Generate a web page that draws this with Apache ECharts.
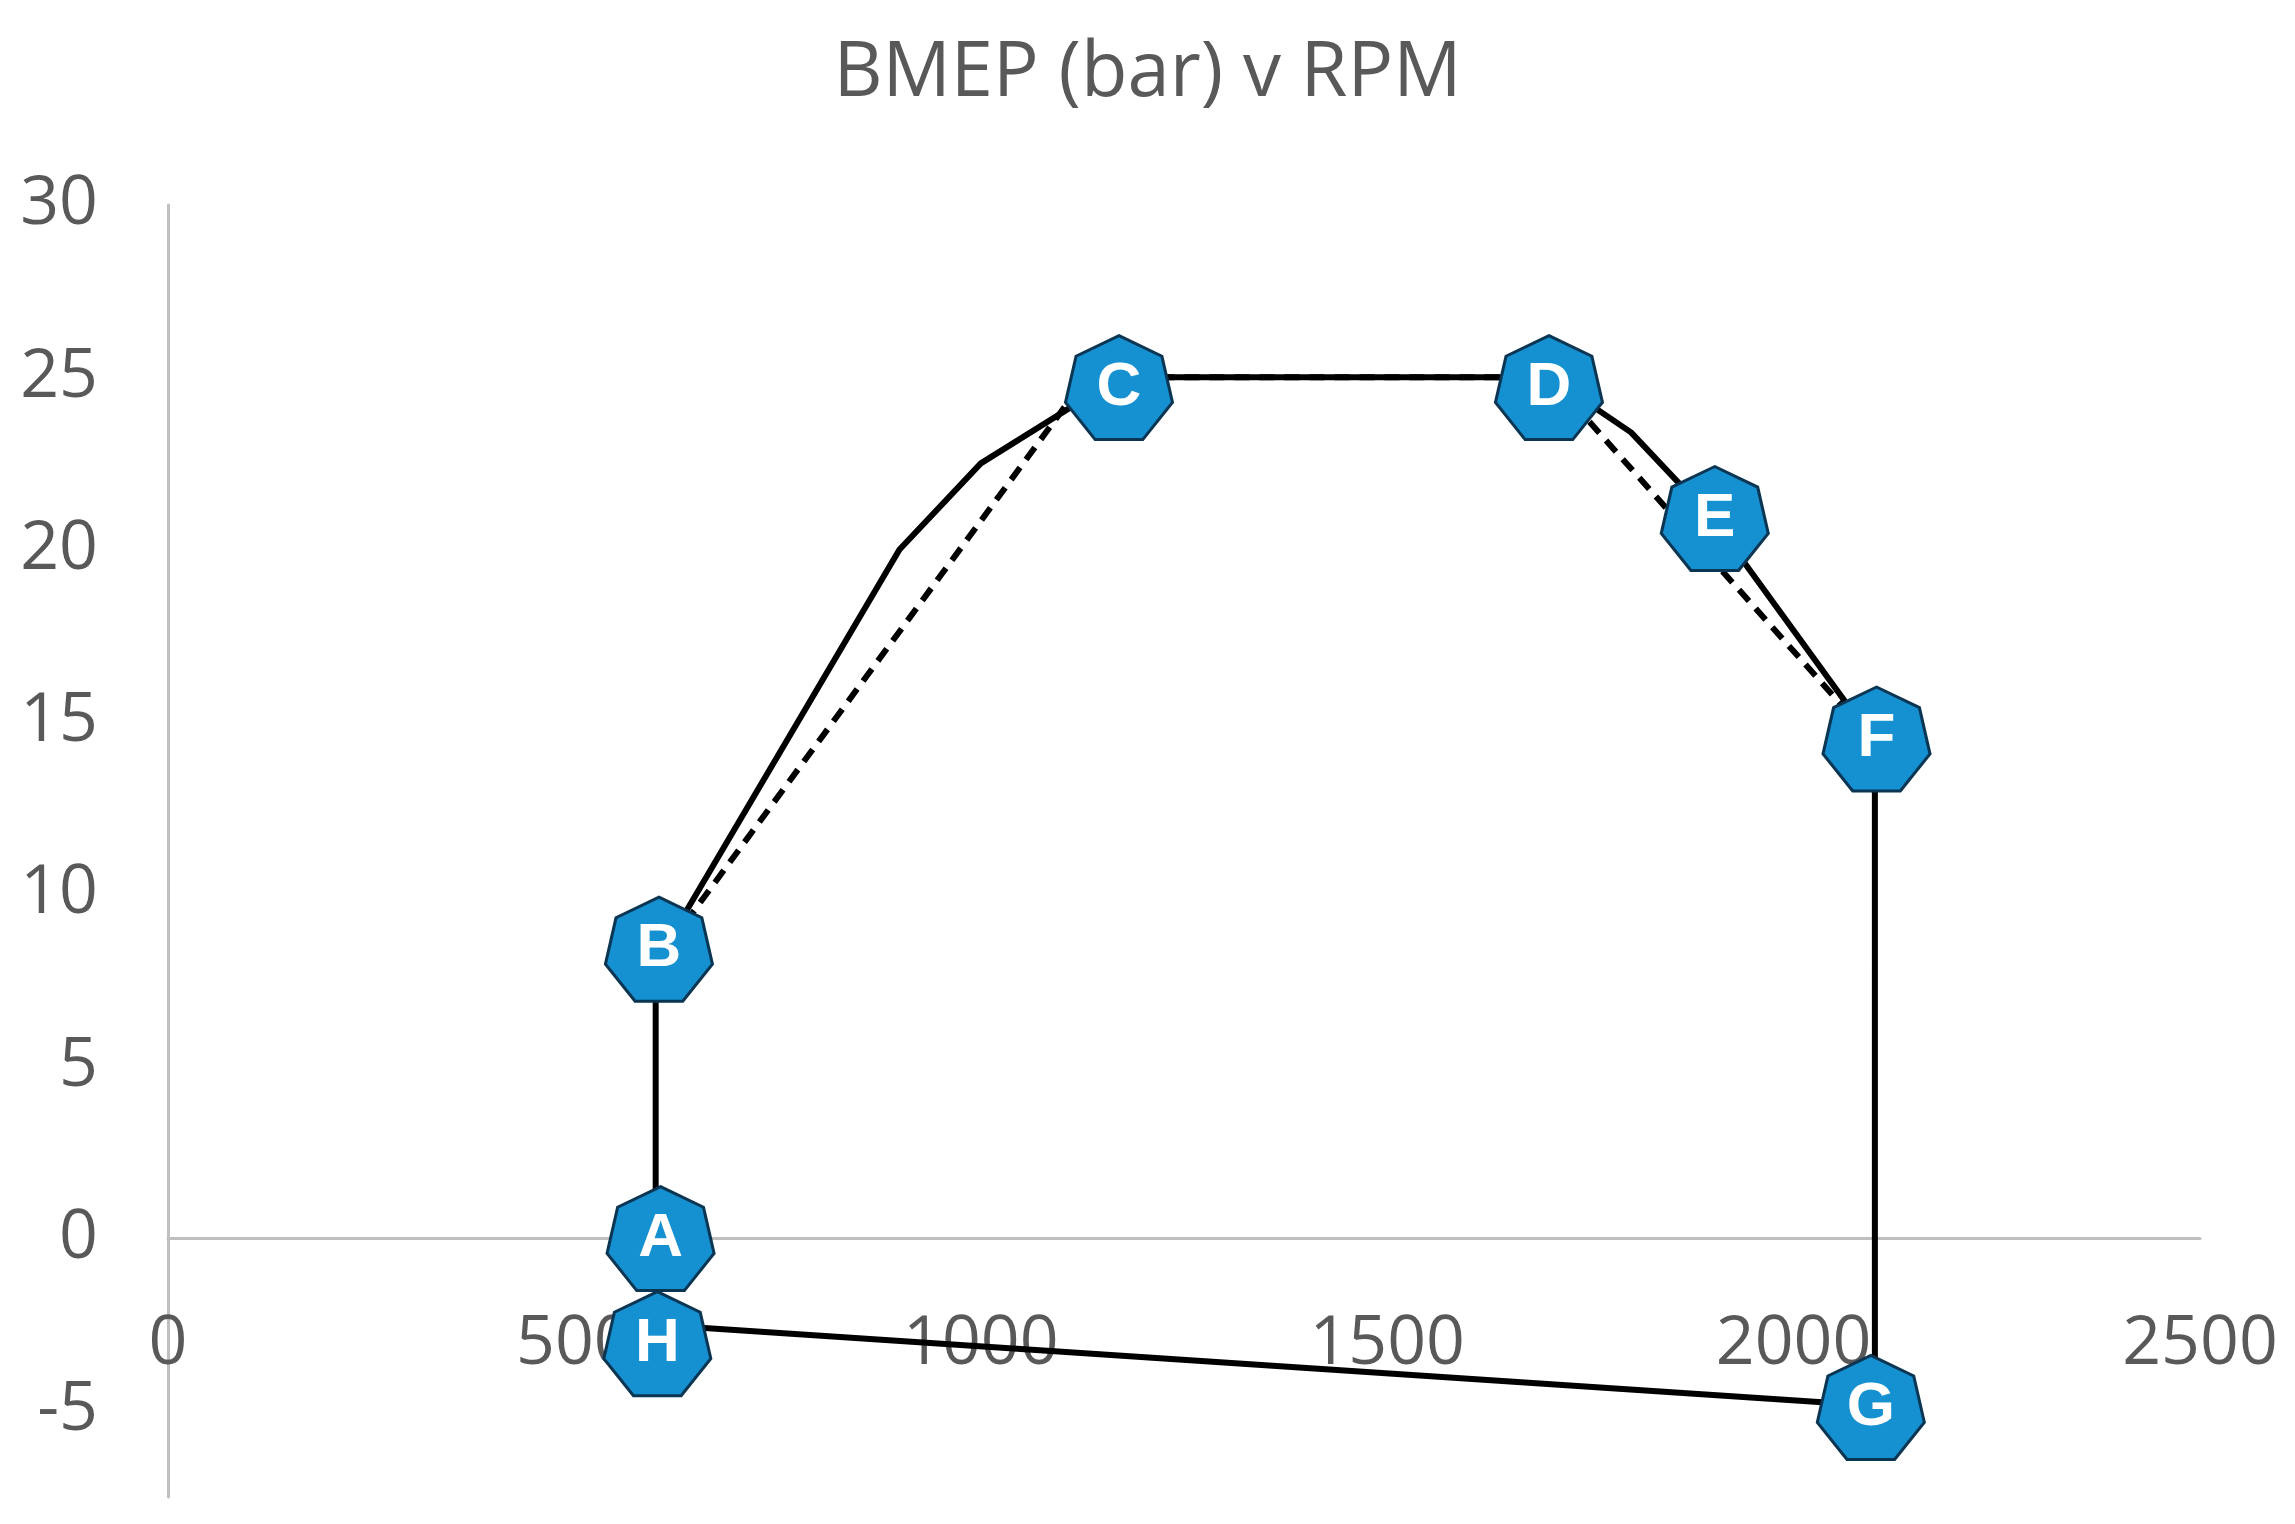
<!DOCTYPE html>
<html>
<head>
<meta charset="utf-8">
<title>BMEP (bar) v RPM</title>
<script src="https://cdn.jsdelivr.net/npm/echarts@6.0.0/dist/echarts.min.js"></script>
<style>
    html, body { margin: 0; padding: 0; background: #fff; }
    #main { width: 2295px; height: 1524px; }
</style>
</head>
<body>
<div id="main"></div>
<script>
// 实线 (engine map outline)
var solidRpm  = [600, 600, 900, 1000, 1170, 1700, 1800, 1900, 2100, 2100, 600, 600];
var solidBmep = [0, 8, 20, 22.5, 25, 25, 23.4, 20.9, 14.4, -4.85, -2.5, 0];

// 虚线 (straight B-C-D-F)
var dashRpm  = [600, 1130, 1700, 2100];
var dashBmep = [8, 25, 25, 14.4];

// 标记点 A..H
var markerNames = ['A', 'B', 'C', 'D', 'E', 'F', 'G', 'H'];
var markerRpm   = [606, 604, 1170, 1699, 1903, 2102, 2095, 602];
var markerBmep  = [0, 8.4, 24.7, 24.7, 20.9, 14.5, -4.9, -3.05];

// axis ticks
var xTicks = [0, 500, 1000, 1500, 2000, 2500];
var yTicks = [-5, 0, 5, 10, 15, 20, 25, 30];
var yMin = -7.5;

function pairs(xs, ys) {
    var out = [];
    for (var i = 0; i < xs.length; i++) {
        out.push([xs[i], ys[i]]);
    }
    return out;
}

var markerData = [];
for (var i = 0; i < markerNames.length; i++) {
    markerData.push({ name: markerNames[i], value: [markerRpm[i], markerBmep[i]] });
}

// 七边形
var heptagon = 'path://M0,-100 L78.18,-62.35 L97.49,22.25 L43.39,90.1 L-43.39,90.1 L-97.49,22.25 L-78.18,-62.35 Z';

var axisFont = { color: '#595959', fontSize: 68, fontFamily: 'Open Sans' };

// 网格
var gridTop = 205, gridBottom = 27, chartH = 1524;
var plotH = chartH - gridTop - gridBottom;
var yMax = yTicks[yTicks.length - 1];
// move the x axis up from the bottom to where bmep = 0
var zeroOffset = -plotH * (0 - yMin) / (yMax - yMin);

var option = {
    backgroundColor: '#fff',
    animation: false,
    title: {
        text: 'BMEP (bar) v RPM',
        left: 'center',
        top: 31,
        textStyle: { color: '#595959', fontSize: 76, fontWeight: 'normal', fontFamily: 'Open Sans' }
    },
    grid: {
        left: 168,
        right: 95,
        top: gridTop,
        bottom: gridBottom,
        outerBoundsMode: 'none'
    },
    xAxis: {
        type: 'value',
        position: 'bottom',
        offset: zeroOffset,
        min: xTicks[0],
        max: xTicks[xTicks.length - 1],
        interval: 500,
        axisLine: { show: true, onZero: false, lineStyle: { color: '#bfbfbf', width: 3 } },
        axisTick: { show: false },
        splitLine: { show: false },
        axisLabel: {
            margin: 72,
            showMinLabel: true,
            showMaxLabel: true,
            hideOverlap: false,
            color: axisFont.color,
            fontSize: axisFont.fontSize,
            fontFamily: axisFont.fontFamily,
            formatter: function (v) {
                return String(v);
            }
        }
    },
    yAxis: {
        type: 'value',
        min: yMin,
        max: yMax,
        interval: 2.5,
        axisLine: { show: true, onZero: false, lineStyle: { color: '#bfbfbf', width: 3 } },
        axisTick: { show: false },
        splitLine: { show: false },
        axisLabel: {
            margin: 70,
            color: axisFont.color,
            fontSize: axisFont.fontSize,
            fontFamily: axisFont.fontFamily,
            formatter: function (v) {
                return yTicks.indexOf(v) >= 0 ? String(v) : '';
            }
        }
    },
    series: [
        {
            name: 'solid',
            type: 'line',
            data: pairs(solidRpm, solidBmep),
            symbol: 'none',
            z: 2,
            lineStyle: { color: '#000', width: 6 }
        },
        {
            name: 'dashed',
            type: 'line',
            data: pairs(dashRpm, dashBmep),
            symbol: 'none',
            z: 2,
            lineStyle: { color: '#000', width: 6, type: [15, 10] }
        },
        {
            name: 'points',
            type: 'scatter',
            data: markerData,
            symbol: heptagon,
            symbolSize: [107, 104],
            z: 5,
            itemStyle: { color: '#1590d0', borderColor: '#0a3553', borderWidth: 3, opacity: 1 },
            label: {
                show: true,
                position: 'inside',
                formatter: '{b}',
                color: '#fff',
                fontSize: 62,
                fontWeight: 'bold',
                fontFamily: 'Liberation Sans'
            }
        }
    ]
};

var chart = echarts.init(document.getElementById('main'));
chart.setOption(option);
</script>
</body>
</html>
